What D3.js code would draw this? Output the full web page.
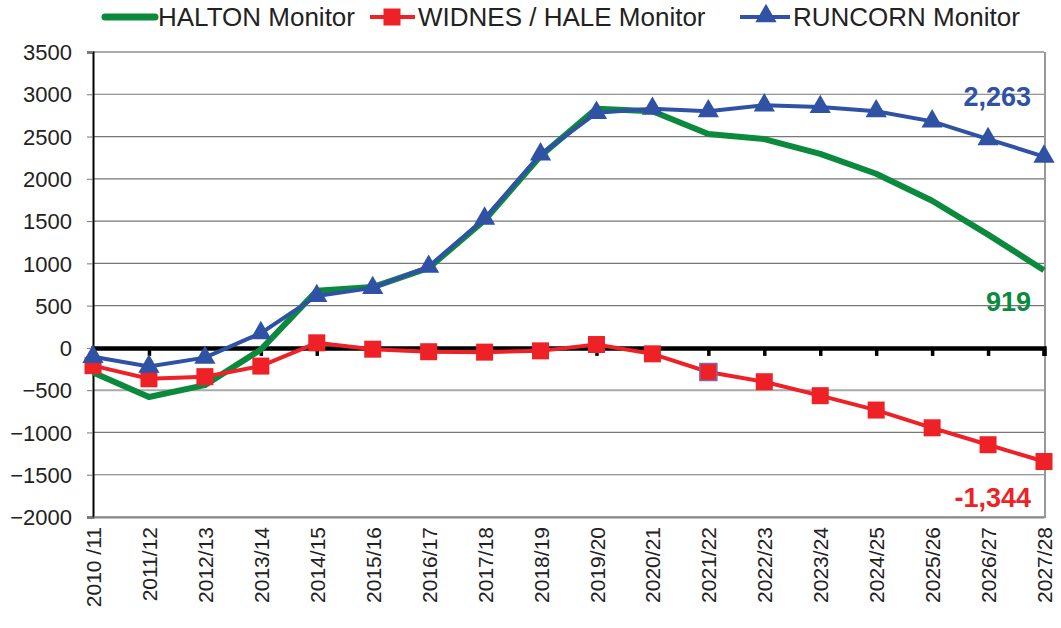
<!DOCTYPE html>
<html><head><meta charset="utf-8">
<script src="https://cdn.jsdelivr.net/npm/d3@7"></script>
<style>body{margin:0;background:#fff}svg{display:block}text{font-family:"Liberation Sans",Arial,sans-serif}</style>
</head><body><svg id="c" width="1061" height="628"></svg>
<script>
const categories = ["2010 /11","2011/12","2012/13","2013/14","2014/15","2015/16","2016/17","2017/18","2018/19","2019/20","2020/21","2021/22","2022/23","2023/24","2024/25","2025/26","2026/27","2027/28"];
const halton  = [-290,-580,-440,-20,675,720,945,1510,2270,2830,2800,2530,2470,2295,2060,1740,1340,919];
const widnes  = [-210,-365,-340,-215,60,-15,-45,-50,-35,40,-70,-285,-400,-565,-735,-945,-1145,-1344];
const runcorn = [-105,-220,-115,175,615,710,960,1530,2290,2780,2830,2800,2870,2850,2800,2680,2470,2263];
const yTicks = [3500,3000,2500,2000,1500,1000,500,0,-500,-1000,-1500,-2000];
const seriesNames = ["HALTON Monitor","WIDNES / HALE Monitor","RUNCORN Monitor"];
const endLabels = ["919","-1,344","2,263"];

const svg = d3.select("#c");
const L = 93, R = 1044, T = 52, B = 517;
const x = d3.scalePoint().domain(categories).range([L, R]);
const y = d3.scaleLinear().domain([-2000, 3500]).range([B, T]);
const GREEN = "#0b8a3e", RED = "#ee2127", BLUE = "#2f52a5";

// gridlines
svg.append("g").selectAll("line").data(yTicks.filter(d => d !== 0)).join("line")
  .attr("x1", L).attr("x2", R).attr("y1", d => y(d)).attr("y2", d => y(d))
  .attr("stroke", d => (d === -500 || d === 3500) ? "#aaaaaa" : "#777")
  .attr("stroke-width", d => (d === -500 || d === 3500) ? 2 : 1.2);
// right border
svg.append("line").attr("x1", R+1).attr("x2", R+1).attr("y1", T).attr("y2", B+1).attr("stroke", "#999").attr("stroke-width", 2);

// left axis
const yAxis = d3.axisLeft(y).tickValues(yTicks).tickSize(6).tickFormat(d3.format("d"));
const ga = svg.append("g").attr("transform", `translate(${L},0)`).call(yAxis);
ga.select(".domain").attr("stroke", "#000").attr("stroke-width", 2);
ga.selectAll(".tick line").attr("stroke", "#777");
ga.selectAll(".tick text").attr("font-size", 22).attr("fill", "#222").attr("x", -21).attr("dy", "0.35em")
  .style("font-family", '"Liberation Sans", Arial, sans-serif');

// zero axis with category ticks
const xAxis = d3.axisBottom(x).tickSize(8).tickFormat("");
const gx = svg.append("g").attr("transform", `translate(0,${y(0)})`).call(xAxis);
gx.select(".domain").attr("stroke", "#000").attr("stroke-width", 4.5);
gx.selectAll(".tick line").attr("stroke", "#000").attr("stroke-width", 3.5);

// bottom category labels
const gb = svg.append("g").attr("transform", `translate(0,${B})`).call(d3.axisBottom(x).tickSize(0));
gb.select(".domain").attr("stroke", "#888").attr("stroke-width", 2);
gb.selectAll(".tick text").attr("font-size", 21).attr("fill", "#222")
  .attr("transform", "rotate(-90)").attr("text-anchor", "end").attr("x", -10).attr("y", 0).attr("dy", "0.36em")
  .style("font-family", '"Liberation Sans", Arial, sans-serif');

const line = d3.line().x((d, i) => x(categories[i])).y(d => y(d));
// green
svg.append("path").datum(halton).attr("d", line).attr("fill", "none").attr("stroke", GREEN).attr("stroke-width", 6).attr("stroke-linejoin", "round");
// red
svg.append("path").datum(widnes).attr("d", line).attr("fill", "none").attr("stroke", RED).attr("stroke-width", 4);
svg.append("g").selectAll("rect").data(widnes).join("rect")
  .attr("x", (d, i) => x(categories[i]) - 8.5).attr("y", d => y(d) - 8.5).attr("width", 17).attr("height", 17)
  .attr("fill", RED).attr("stroke", (d, i) => i === 11 ? "#8266ad" : "none").attr("stroke-width", 1.5);
// blue
svg.append("path").datum(runcorn).attr("d", line).attr("fill", "none").attr("stroke", BLUE).attr("stroke-width", 4);
const tri = d3.symbol().type(d3.symbolTriangle).size(195);
svg.append("g").selectAll("path").data(runcorn).join("path")
  .attr("d", tri).attr("transform", (d, i) => `translate(${x(categories[i])},${y(d)})`).attr("fill", BLUE);

// end labels
const lastY = [halton, widnes, runcorn].map(s => s[s.length - 1]);
const labCol = [GREEN, RED, BLUE];
const labOff = [41, 45, -51];
svg.append("g").selectAll("text").data(endLabels).join("text")
  .attr("x", 1031).attr("y", (d, i) => y(lastY[i]) + labOff[i]).attr("text-anchor", "end")
  .attr("font-size", 27).attr("font-weight", "bold").attr("fill", (d, i) => labCol[i]).text(d => d);

// legend
const lg = svg.append("g");
const legX = [105, 370, 740];
const legTx = [158, 418, 793];
const legCol = [GREEN, RED, BLUE];
lg.selectAll("line").data(seriesNames).join("line")
  .attr("x1", (d, i) => legX[i]).attr("x2", (d, i) => legTx[i] - 3).attr("y1", 17).attr("y2", 17)
  .attr("stroke", (d, i) => legCol[i]).attr("stroke-width", (d, i) => i === 0 ? 7 : 4)
  .attr("stroke-linecap", (d, i) => i === 0 ? "round" : "butt");
lg.append("rect").attr("x", 392 - 8.5).attr("y", 17 - 8.5).attr("width", 17).attr("height", 17).attr("fill", RED);
lg.append("path").attr("d", tri).attr("transform", "translate(766,16)").attr("fill", BLUE);
lg.selectAll("text").data(seriesNames).join("text")
  .attr("x", (d, i) => legTx[i]).attr("y", 17).attr("dy", "0.36em")
  .attr("font-size", 26).attr("fill", "#222").text(d => d);
</script></body></html>
